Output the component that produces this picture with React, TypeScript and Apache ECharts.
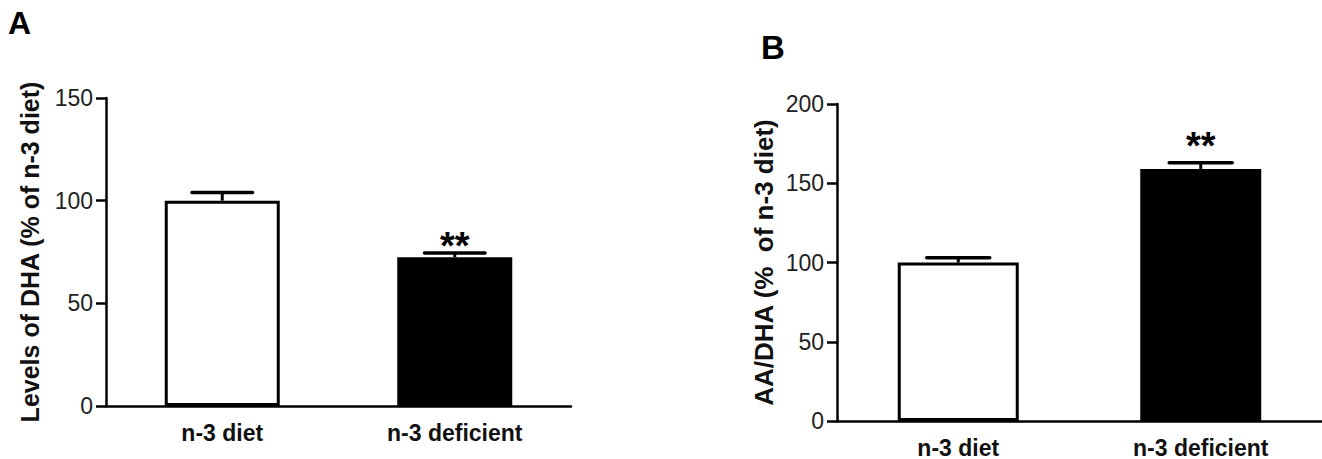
import React, { useEffect, useRef } from "react";
import * as echarts from "echarts";

const categories = ["n-3 diet", "n-3 deficient"];

// Panel A: Levels of DHA (% of n-3 diet)
const dhaValues = [100, 72.5];
const dhaErrors = [4, 2];
const dhaSig = ["", "**"];
const dhaTicks = { min: 0, max: 150, interval: 50 };

// Panel B: AA/DHA (% of n-3 diet)
const ratioValues = [100, 159];
const ratioErrors = [3, 4];
const ratioSig = ["", "**"];
const ratioTicks = { min: 0, max: 200, interval: 50 };

const barColors = ["#ffffff", "#000000"];

const FONT = "'Liberation Sans', Arial, Helvetica, sans-serif";

function errorSeries(idx: number, values: number[], errors: number[], sig: string[], starGap: number) {
  return {
    type: "custom",
    xAxisIndex: idx,
    yAxisIndex: idx,
    z: 5,
    silent: true,
    data: values.map((v, i) => [i, v, errors[i]]),
    encode: { x: 0, y: 1 },
    renderItem: (params: any, api: any) => {
      const i = api.value(0);
      const v = api.value(1);
      const e = api.value(2);
      const base = api.coord([i, v]);
      const top = api.coord([i, v + e]);
      const band = api.size([1, 0])[0];
      const half = band * 0.13;
      const children: any[] = [
        {
          type: "line",
          shape: { x1: base[0], y1: base[1], x2: top[0], y2: top[1] },
          style: { stroke: "#000", lineWidth: 3 },
        },
        {
          type: "line",
          shape: { x1: top[0] - half, y1: top[1], x2: top[0] + half, y2: top[1] },
          style: { stroke: "#000", lineWidth: 3.5, lineCap: "round" },
        },
      ];
      const s = sig[params.dataIndex];
      if (s) {
        children.push({
          type: "text",
          style: {
            text: s,
            x: top[0],
            y: top[1] - starGap,
            align: "center",
            verticalAlign: "middle",
            font: `bold 38px ${FONT}`,
            fill: "#000",
          },
        });
      }
      return { type: "group", children };
    },
  };
}

function barSeries(idx: number, values: number[], width: number) {
  return {
    type: "bar",
    xAxisIndex: idx,
    yAxisIndex: idx,
    barWidth: width,
    z: 3,
    data: values.map((v, i) => ({
      value: v,
      itemStyle: { color: barColors[i], borderColor: "#000", borderWidth: 3 },
    })),
  };
}

function xAxis(idx: number) {
  return {
    type: "category",
    gridIndex: idx,
    data: categories,
    axisLine: { show: true, lineStyle: { color: "#000", width: 2.5 } },
    axisTick: { show: false },
    axisLabel: { fontSize: 23, fontWeight: "bold", color: "#111", margin: 15, fontFamily: FONT },
  };
}

function yAxis(
  idx: number,
  ticks: { min: number; max: number; interval: number },
  name: string,
  gap: number,
  nameSize: number
) {
  return {
    type: "value",
    gridIndex: idx,
    min: ticks.min,
    max: ticks.max,
    interval: ticks.interval,
    splitLine: { show: false },
    axisLine: { show: true, lineStyle: { color: "#000", width: 2.5 } },
    axisTick: { show: true, length: 10, lineStyle: { color: "#000", width: 2.5 } },
    axisLabel: { fontSize: 23, color: "#222", margin: 13, fontFamily: FONT },
    name,
    nameLocation: "middle",
    nameGap: gap,
    nameTextStyle: { fontSize: nameSize, fontWeight: "bold", color: "#111", fontFamily: FONT },
  };
}

export default function App() {
  const ref = useRef<HTMLDivElement>(null);
  useEffect(() => {
    if (!ref.current) return;
    const chart = echarts.init(ref.current, null, { renderer: "svg" });
    chart.setOption({
      animation: false,
      backgroundColor: "#ffffff",
      grid: [
        { left: 106, top: 98, width: 465, height: 308 },
        { left: 837, top: 104, width: 485, height: 321 },
      ],
      xAxis: [xAxis(0), xAxis(1)],
      yAxis: [
        yAxis(0, dhaTicks, "Levels of DHA (% of n-3 diet)", 64, 25),
        yAxis(1, ratioTicks, "AA/DHA (%  of n-3 diet)", 60, 26),
      ],
      graphic: [
        { type: "text", left: 8, top: 7, style: { text: "A", font: `bold 32px ${FONT}`, fill: "#000" } },
        { type: "text", left: 761, top: 31, style: { text: "B", font: `bold 33px ${FONT}`, fill: "#000" } },
      ],
      series: [
        barSeries(0, dhaValues, 115),
        errorSeries(0, dhaValues, dhaErrors, dhaSig, 7),
        barSeries(1, ratioValues, 121),
        errorSeries(1, ratioValues, ratioErrors, ratioSig, 17),
      ],
    });
    return () => chart.dispose();
  }, []);
  return (
    <div
      ref={ref}
      style={{ position: "absolute", left: 0, top: 0, width: 1322, height: 459, background: "#fff" }}
    />
  );
}
